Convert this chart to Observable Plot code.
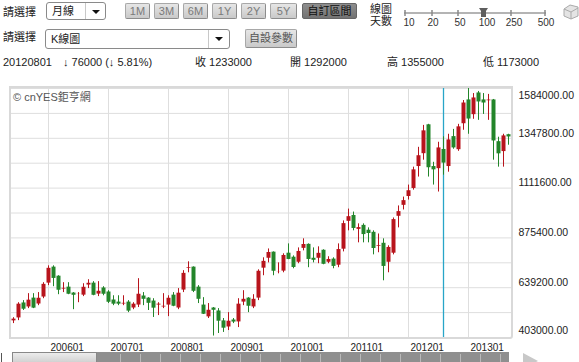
<!DOCTYPE html>
<html><head><meta charset="utf-8">
<script src="https://cdn.jsdelivr.net/npm/d3@7"></script>
<script src="https://cdn.jsdelivr.net/npm/@observablehq/plot@0.6"></script>
<style>
html,body{margin:0;padding:0;background:#fff}
body{width:579px;height:362px;overflow:hidden;position:relative;font-family:"Liberation Sans","Noto Sans CJK TC",sans-serif;color:#222;font-size:11px}
.a{position:absolute;white-space:nowrap;line-height:13px}
.sel{position:absolute;box-sizing:border-box;border:1px solid #8a8a8a;border-radius:3px;background:#fff}
.sel .t{position:absolute;left:5px;top:2px;font-size:11px;line-height:13px}
.sel .arr{position:absolute;right:0;top:0;bottom:0;width:19px;border-left:1px solid #c8c8c8}
.sel .arr:after{content:"";position:absolute;left:6px;top:7px;border-left:4px solid transparent;border-right:4px solid transparent;border-top:4px solid #111}
.btn{position:absolute;box-sizing:border-box;height:16px;top:3px;border:1px solid #a8a8a8;border-right-color:#8c8c8c;border-bottom-color:#8c8c8c;border-radius:2px;background:linear-gradient(#e6e6e6,#c9c9c9);color:#7a7a7a;text-align:center;font-size:11px;line-height:14px}
.btn.on{background:linear-gradient(#8e8e8e,#737373);color:#111;border-color:#666}
#chart{position:absolute;left:0;top:80px}
#frame{position:absolute;left:9px;top:86px;width:504px;height:253px;box-sizing:border-box;border:2px solid #d9d9d9;border-radius:0 0 3px 0;pointer-events:none}
</style></head><body>

<div class="a" style="left:3px;top:6px">請選擇</div>
<div class="sel" style="left:46px;top:2px;width:60px;height:18px"><span class="t">月線</span><span class="arr"></span></div>
<div class="btn" style="left:125px;width:25px">1M</div>
<div class="btn" style="left:154px;width:25px">3M</div>
<div class="btn" style="left:183px;width:25px">6M</div>
<div class="btn" style="left:212px;width:25px">1Y</div>
<div class="btn" style="left:241px;width:25px">2Y</div>
<div class="btn" style="left:270px;width:27px">5Y</div>
<div class="btn on" style="left:302px;width:55px">自訂區間</div>
<div class="a" style="left:370px;top:3px;line-height:12px;font-size:11px">線圖<br>天數</div>
<svg style="position:absolute;left:400px;top:4px" width="160" height="26">
  <line x1="4" y1="9" x2="146" y2="9" stroke="#b4b4b4" stroke-width="2"/>
  <g stroke="#8a8a8a" stroke-width="1.5">
    <line x1="5" y1="6" x2="5" y2="12"/><line x1="32" y1="6" x2="32" y2="12"/>
    <line x1="58" y1="6" x2="58" y2="12"/><line x1="111" y1="6" x2="111" y2="12"/>
    <line x1="145" y1="6" x2="145" y2="12"/>
  </g>
  <path d="M79,4 L88,4 L86,7 L86,13 L81,13 L81,7 Z" fill="#5e5e5e"/>
  <g font-size="10" fill="#333" font-family="Liberation Sans" text-anchor="middle">
    <text x="9" y="22">10</text><text x="33" y="22">20</text><text x="60" y="22">50</text>
    <text x="87" y="22">100</text><text x="114" y="22">250</text><text x="146" y="22">500</text>
  </g>
</svg>
<svg style="position:absolute;left:562px;top:3px" width="17" height="18">
  <path d="M2,6 L8,2 L16,4 L16,13 L9,16 L2,13 Z" fill="#e4e4e4" stroke="#aaa"/>
  <path d="M2,6 L9,9 L16,5 M9,9 L9,16" fill="none" stroke="#aaa"/>
</svg>

<div class="a" style="left:3px;top:31px">請選擇</div>
<div class="sel" style="left:45px;top:29px;width:185px;height:20px"><span class="t" style="top:3px">K線圖</span><span class="arr" style="width:20px"></span></div>
<div class="btn" style="left:245px;top:29px;width:52px;height:19px;color:#555;line-height:17px">自設參數</div>

<div class="a" style="left:3px;top:56px">20120801</div>
<div class="a" style="left:63px;top:56px">↓ 76000 (↓ 5.81%)</div>
<div class="a" style="left:195px;top:56px">收 1233000</div>
<div class="a" style="left:290px;top:56px">開 1292000</div>
<div class="a" style="left:387px;top:56px">高 1355000</div>
<div class="a" style="left:483px;top:56px">低 1173000</div>

<div id="chart"></div>
<div id="frame"></div>
<div class="a" style="left:13px;top:91px;color:#555;font-size:11px">© cnYES鉅亨網</div>

<div style="position:absolute;left:1px;top:353px;width:1px;height:9px;background:#555"></div>
<div style="position:absolute;left:12px;top:352px;width:497px;height:12px;background:#8f8f8f"></div>
<div id="ticks"></div>
<div style="position:absolute;left:12px;top:352px;width:85px;height:12px;box-sizing:border-box;border:1px solid #888;background:linear-gradient(#ececec,#cfcfcf)"></div>
<div style="position:absolute;left:523px;top:353px;width:0;height:0;border-left:15px solid #c8c8c8;border-top:8px solid transparent;border-bottom:8px solid transparent"></div>

<script>
// ---- data (monthly K-line, Jun 2005 .. Sep 2013) ----
const startYear = 2005, startMonth = 6;
const opens = [479000,493000,564000,545000,587000,559000,592000,658000,734000,691000,
630000,639000,611000,606000,601000,649000,658000,606000,635000,616000,
578000,568000,559000,568000,540000,554000,597000,587000,573000,554000,
545000,554000,601000,540000,625000,729000,734000,639000,554000,498000,
540000,526000,479000,450000,483000,474000,568000,587000,545000,587000,
729000,776000,805000,710000,715000,800000,781000,757000,823000,842000,
776000,776000,814000,757000,772000,743000,819000,951000,979000,913000,
932000,909000,899000,833000,847000,757000,800000,975000,1027000,1069000,
1107000,1211000,1272000,1409000,1211000,1201000,1292000,1211000,1353000,1291000,
1414000,1527000,1457000,1560000,1527000,1523000,1527000,1329000,1282000,1362000];
const highs = [497000,568000,578000,611000,611000,616000,663000,743000,743000,696000,
663000,663000,616000,616000,658000,677000,668000,668000,644000,625000,
601000,601000,601000,578000,568000,682000,616000,592000,587000,568000,
611000,601000,616000,635000,720000,762000,738000,649000,592000,564000,
545000,540000,493000,521000,493000,587000,625000,592000,606000,724000,
781000,823000,809000,757000,800000,847000,790000,828000,871000,847000,
828000,833000,819000,786000,781000,847000,956000,1012000,998000,942000,
942000,923000,909000,894000,871000,838000,970000,1027000,1069000,1126000,
1211000,1305000,1409000,1414000,1234000,1329000,1355000,1367000,1390000,1414000,
1527000,1584000,1560000,1570000,1560000,1556000,1532000,1353000,1367000,1367000];
const lows = [469000,483000,531000,540000,540000,554000,587000,649000,644000,606000,
616000,606000,535000,568000,597000,635000,601000,597000,601000,564000,
554000,554000,554000,521000,535000,545000,554000,531000,498000,507000,
540000,502000,549000,535000,616000,710000,616000,564000,512000,493000,
410000,422000,427000,436000,469000,450000,554000,521000,540000,578000,
696000,757000,696000,705000,710000,772000,729000,753000,814000,734000,
757000,753000,748000,753000,729000,734000,809000,909000,909000,852000,
852000,852000,795000,805000,672000,710000,795000,923000,1008000,1055000,
1102000,1164000,1244000,1164000,1126000,1093000,1173000,1187000,1296000,1286000,
1386000,1367000,1438000,1433000,1461000,1433000,1244000,1211000,1211000,1315000];
const closes = [493000,564000,540000,583000,545000,592000,658000,734000,686000,630000,
639000,611000,606000,611000,644000,663000,606000,625000,611000,573000,
564000,564000,568000,531000,564000,611000,587000,568000,545000,564000,
554000,592000,554000,616000,710000,738000,625000,587000,516000,535000,
535000,483000,450000,483000,479000,564000,587000,554000,587000,720000,
767000,809000,720000,715000,795000,776000,738000,814000,847000,776000,
772000,805000,753000,776000,743000,823000,946000,979000,923000,927000,
894000,899000,828000,842000,743000,833000,965000,1003000,1055000,1102000,
1201000,1268000,1386000,1211000,1201000,1305000,1233000,1343000,1305000,1405000,
1518000,1442000,1542000,1523000,1518000,1532000,1338000,1277000,1362000,1357000];
const xTickLabels = ["200601","200701","200801","200901","201001","201101","201201","201301"];
const yTickLabels = [403000,639200,875400,1111600,1347800,1584000];
const yGrid = [403000,521100,639200,757300,875400,993500,1111600,1229700,1347800,1465900,1584000];
const cursorMonth = "201208";

const UP = "#b8141c", DOWN = "#23852a";
const monthIndex = s => (+s.slice(0,4) - startYear) * 12 + (+s.slice(4,6) - startMonth);
const data = opens.map((o, i) => ({i, open:o, high:highs[i], low:lows[i], close:closes[i]}));
const xt = xTickLabels.map(label => ({label, i: monthIndex(label)}));
const yt = yTickLabels.map(v => ({v, label: v.toFixed(2)}));
const col = d => d.close >= d.open ? UP : DOWN;

const chart = Plot.plot({
  width: 579, height: 272,
  marginLeft: 11, marginRight: 68, marginTop: 8, marginBottom: 15,
  x: {type: "linear", domain: [-0.4, opens.length - 0.4], axis: null},
  y: {domain: [yGrid[0], yGrid[yGrid.length - 1]], axis: null},
  style: {background: "transparent", fontFamily: "Liberation Sans, Arial, sans-serif", fontSize: "10px", color: "#222", overflow: "visible"},
  marks: [
    Plot.ruleY(yGrid, {stroke: "#dedede", strokeWidth: 1}),
    Plot.ruleX(xt, {x: "i", stroke: "#dedede", strokeWidth: 1}),
    Plot.ruleX([{i: monthIndex(cursorMonth)}], {x: "i", stroke: "rgb(40,165,200)", strokeWidth: 1.3, strokeOpacity: 1}),
    Plot.ruleX(data, {x: "i", y1: "low", y2: "high", stroke: col, strokeWidth: 1}),
    Plot.ruleX(data, {x: "i", y1: "open", y2: "close", stroke: col, strokeWidth: 4, insetTop: -0.6, insetBottom: -0.6}),
    Plot.text(xt, {x: "i", text: "label", frameAnchor: "bottom", textAnchor: "start", lineAnchor: "middle", dx: 2, dy: 10, fill: "#222"}),
    Plot.text(yt.slice(1, -1), {y: "v", text: "label", frameAnchor: "right", textAnchor: "start", lineAnchor: "middle", dx: 7, dy: -5, fill: "#222", fontSize: 10.5}),
    Plot.text(yt.slice(0, 1), {y: "v", text: "label", frameAnchor: "right", textAnchor: "start", lineAnchor: "middle", dx: 7, dy: -7, fill: "#222", fontSize: 10.5}),
    Plot.text(yt.slice(-1), {y: "v", text: "label", frameAnchor: "right", textAnchor: "start", lineAnchor: "middle", dx: 7, dy: 7, fill: "#222", fontSize: 10.5})
  ]
});
document.getElementById("chart").appendChild(chart);

// scrollbar tick marks (decorative)
const tk = document.getElementById("ticks");
for (let x = 120; x < 508; x += 20) {
  const d = document.createElement("div");
  d.style.cssText = `position:absolute;left:${x}px;top:354px;width:1px;height:8px;background:#b9b9b9`;
  tk.appendChild(d);
}
</script>
</body></html>
